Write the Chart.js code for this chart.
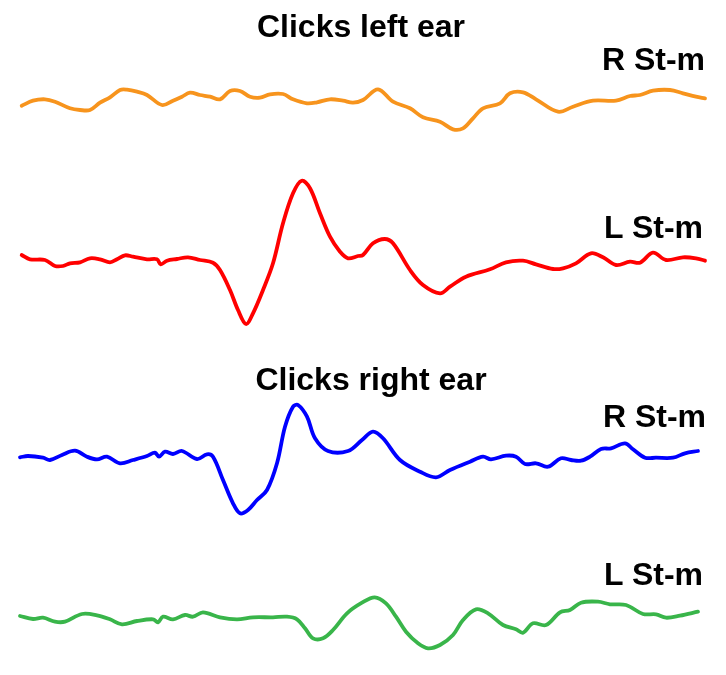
<!DOCTYPE html>
<html>
<head>
<meta charset="utf-8">
<script src="https://cdn.jsdelivr.net/npm/chart.js@4"></script>
<style>
  html, body { margin: 0; padding: 0; background: #fff; }
  #wrap { position: relative; width: 726px; height: 675px; }
  #wrap canvas { position: absolute; left: 0; top: 0; }
  .lbl {
    position: absolute;
    font-family: "Liberation Sans", Arial, sans-serif;
    font-weight: bold;
    font-size: 32px;
    line-height: 32px;
    color: #000;
    white-space: nowrap;
  }
</style>
</head>
<body>
<div id="wrap">
  <canvas id="traces" width="726" height="675"></canvas>
  <div class="lbl" style="left:361px; top:10px; transform:translateX(-50%);">Clicks left ear</div>
  <div class="lbl" style="right:21px; top:43px;">R St-m</div>
  <div class="lbl" style="right:23px; top:211px;">L St-m</div>
  <div class="lbl" style="left:371px; top:363px; transform:translateX(-50%);">Clicks right ear</div>
  <div class="lbl" style="right:20px; top:400px;">R St-m</div>
  <div class="lbl" style="right:23px; top:558px;">L St-m</div>
</div>
<script>
// time (sample units) and amplitude (positive = up) for each trace

// clicks left ear, R St-m
const leftR_t = [21.7, 33, 45, 55, 70, 80, 90, 100, 110, 120, 127, 137, 147, 162, 173, 182, 190, 200, 210, 220,
    230, 240, 250, 260, 270, 283, 293, 307, 317, 330, 343, 353, 363, 378, 393, 410, 423, 440, 453, 463,
    473, 483, 500, 510, 523, 536, 558, 573, 593, 616, 630, 640, 653, 670, 683, 696, 705];
const leftR_a = [-5.7, -0.7, 0.7, -1.7, -8.3, -10, -10, -2.7, 2.7, 10, 10.3, 8.3, 5, -5, -0.7, 3.3, 7.3, 5, 3.3, 0.7,
    9, 9, 3.3, 2.3, 5.7, 6, 0.7, -3.3, -2.3, 0.7, -0.7, -2.7, 0, 10.7, -1.7, -8.3, -17.3, -21.7, -29.3, -28.3,
    -18.3, -8.3, -3.3, 6.7, 7.7, 0.7, -11.7, -6.7, -0.7, -0.7, 4, 5, 9.3, 10, 6.7, 3.3, 1.7];

// clicks left ear, L St-m
const leftL_t = [21.7, 30, 45, 55, 63, 70, 80, 90, 100, 110, 117, 125, 133, 147, 157, 160.7, 167, 177, 188, 200,
    213, 220, 230, 238, 246, 253, 263, 273, 283, 293, 301.7, 310, 320, 330, 340, 348, 358, 363, 373, 384.7,
    393, 410, 423, 440, 450, 466, 490, 506, 523, 536, 553, 563, 576, 591, 603, 616, 630, 640, 653, 666,
    683, 696, 705];
const leftL_a = [5, 0.7, 0, -6, -6, -3.3, -2.3, 1.7, 0.7, -2.3, 0.7, 4.7, 3.3, 0.7, 0.7, -4.3, -0.7, 1, 2.7, 0,
    -2.7, -10, -30, -50, -64, -53.3, -30, -3.3, 36.7, 66.7, 79.3, 71.7, 46.7, 23.3, 8.3, 1.7, 4, 5, 16.7, 21,
    16.7, -10, -25, -33.3, -26.7, -16.7, -9.3, -2.3, -0.7, -4.3, -9, -8.3, -3.3, 6.7, 2.7, -5, -1.7, -2.7, 7.3, 0,
    2.7, 1.7, -0.7];

// clicks right ear, R St-m
const rightR_t = [20, 28, 43, 50, 62, 75, 87, 97, 107, 120, 133, 147, 155, 159, 165, 173, 182, 197, 207, 213,
    223, 233, 240, 248, 257, 267, 277, 285, 293, 298, 307, 315, 328, 348, 362, 373, 383, 400, 420, 436,
    450, 470, 483, 491, 506, 516, 525, 536, 548, 561, 571, 581, 590, 601, 611, 625, 633, 645, 656, 673,
    685, 698];
const rightR_a = [-0.3, 1, -0.7, -3, 2, 6.3, 0.3, -2.3, 0.3, -6.3, -3, 1, 4.3, 0.3, 5.3, 3, 6, -2, 2.7, 0.3,
    -23, -46.3, -56.3, -53, -43, -33, -6.3, 30.3, 50.3, 52, 40.3, 18.7, 6, 6, 17, 25.3, 18.7, -3, -14.7, -20.3,
    -13, -4.7, 0.3, -2.3, 1.3, 0.3, -7, -6.3, -9.7, -1.3, -3, -3.7, 0.3, 8, 8.7, 13.7, 7.7, -0.7, -0.7, -0.7,
    3.7, 6];

// clicks right ear, L St-m
const rightL_t = [20, 33, 43, 55, 65, 82, 97, 110, 122, 137, 153, 158, 163, 173, 185, 193, 203, 220, 237, 253,
    273, 287, 297, 305, 313, 323, 333, 347, 362, 374.7, 386, 396, 406, 418, 428, 440, 453, 463, 476, 488,
    503, 516, 523, 533, 546, 560, 570, 581, 598, 610, 626, 643, 656, 666, 680, 698];
const rightL_a = [1, -2, -0.7, -4.7, -4.7, 3, 1.7, -2.3, -7.3, -4, -2.3, -5.3, 0.3, -2.3, 2, 0.3, 4.7, -0.3, -2.3, -0.3,
    -0.3, 0.3, -2.3, -11.3, -21.3, -21.3, -13, 3.7, 14.3, 19.7, 13.7, 0.3, -14.7, -26.3, -31.3, -28, -18, -3, 7.7, 3.7,
    -8, -12.3, -15.7, -6.3, -8, 4.7, 7, 14.3, 15.3, 12.7, 12, 3, 2.7, -0.7, 1.3, 5.3];

const traceNames = ['Left ear R St-m', 'Left ear L St-m', 'Right ear R St-m', 'Right ear L St-m'];
const traceColors = ['#F7941D', '#FF0000', '#0000FF', '#39B54A'];

// layout: baseline of each trace (pixels from top), 1 amplitude unit = 1 px
const rowBase = [100, 260, 457, 617];
const H = 675;

function pts(t, a) {
    return t.map((v, i) => ({ x: v, y: a[i] }));
}

const series = [
    pts(leftR_t, leftR_a),
    pts(leftL_t, leftL_a),
    pts(rightR_t, rightR_a),
    pts(rightL_t, rightL_a)
];

const scales = {
    x: { type: 'linear', min: 0, max: 726, display: false }
};
rowBase.forEach((b, i) => {
    scales['y' + i] = { type: 'linear', min: b - H, max: b, display: false };
});

new Chart(document.getElementById('traces').getContext('2d'), {
    type: 'line',
    data: {
        datasets: series.map((d, i) => ({
            label: traceNames[i],
            data: d,
            yAxisID: 'y' + i,
            borderColor: traceColors[i],
            borderWidth: 3.8,
            borderJoinStyle: 'round',
            borderCapStyle: 'round',
            pointRadius: 0,
            fill: false,
            tension: 0.35
        }))
    },
    options: {
        responsive: false,
        animation: false,
        layout: { padding: 0 },
        scales: scales,
        plugins: {
            legend: { display: false },
            tooltip: { enabled: false }
        }
    }
});
</script>
</body>
</html>
